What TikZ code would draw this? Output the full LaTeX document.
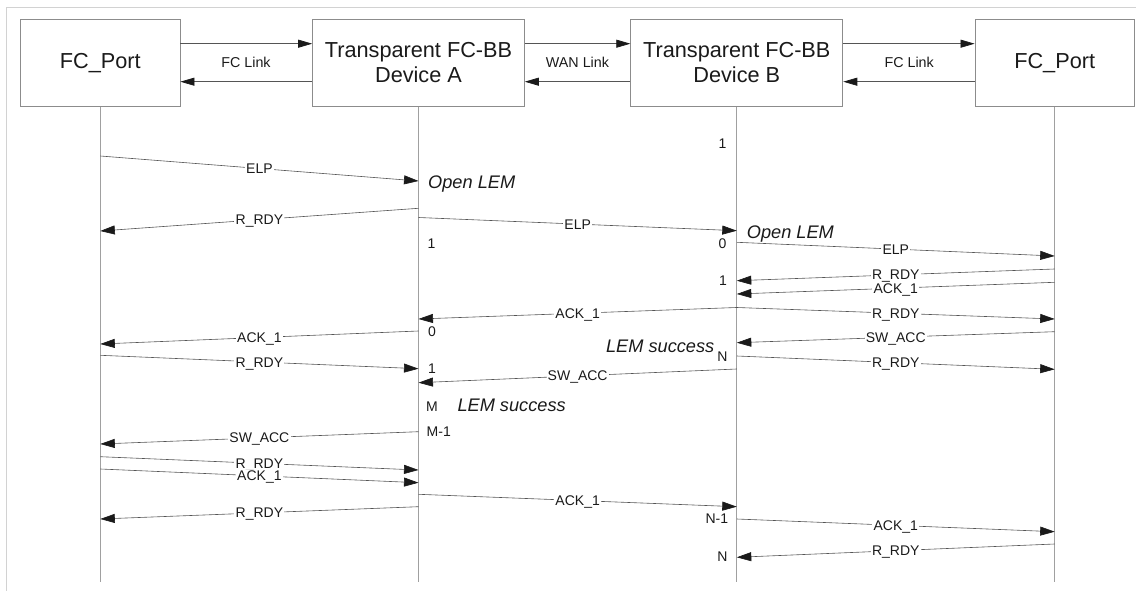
\documentclass[tikz,border=0pt]{standalone}
\usepackage{fontspec}
\setmainfont{Liberation Sans}
\usetikzlibrary{arrows.meta}
\definecolor{boxgray}{HTML}{8C8C8C}
\definecolor{lifegray}{HTML}{A0A0A0}
\definecolor{framegray}{HTML}{D2D2D2}
\definecolor{arrgray}{HTML}{555555}
\definecolor{tipblack}{HTML}{1A1A1A}
\definecolor{txt}{HTML}{1A1A1A}
\newcommand\msgline[6]{%
  \coordinate (#1s) at (#2,#3);
  \coordinate (#1e) at (#4,#5);
  \draw[msg] (#1s) -- node[msglbl]{#6} (#1e);}
\begin{document}
\begin{tikzpicture}[x=1pt,y=-1pt,
  entity/.style={draw=boxgray,line width=0.9pt,minimum height=87.4pt,inner sep=0pt,
    align=center,text=txt,font=\fontsize{21.7}{25}\selectfont},
  lifeline/.style={draw=lifegray,line width=0.9pt},
  linkarr/.style={draw=arrgray,line width=0.7pt,-{Triangle[length=14pt,width=8pt,color=tipblack]}},
  linklbl/.style={text=txt,font=\fontsize{14.3}{16}\selectfont,inner sep=0pt},
  msg/.style={draw=arrgray,line width=0.6pt,-{Triangle[length=14.5pt,width=9pt,color=tipblack]}},
  msglbl/.style={fill=white,text=txt,font=\fontsize{14}{16}\selectfont,
    inner sep=1.2pt,text height=10pt,text depth=0pt},
  state/.style={text=txt,font=\fontsize{18.2}{20}\itshape\selectfont,inner sep=0pt,
    text height=13pt,text depth=0pt},
  cnt/.style={text=txt,font=\fontsize{14}{16}\selectfont,inner sep=0pt,
    text height=10pt,text depth=0pt}]
\useasboundingbox (0,0) rectangle (1136,591);
% frame
\coordinate (fr1) at (1136,7.3);
\coordinate (fr2) at (6.7,7.3);
\coordinate (fr3) at (6.7,591);
\draw[framegray,line width=0.9pt] (fr1) -- (fr2) -- (fr3);
% entities
\def\xA{100.3}\def\xB{418.5}\def\xC{736.8}\def\xD{1054.7}
\node[entity,minimum width=159.3pt] (pl) at (\xA,63) {FC\_Port};
\node[entity,minimum width=211.7pt] (da) at (\xB,63) {Transparent FC-BB\\Device A};
\node[entity,minimum width=212pt] (db) at (\xC,63) {Transparent FC-BB\\Device B};
\node[entity,minimum width=159.3pt] (pr) at (\xD,63) {FC\_Port};
% link arrows
\coordinate (yt) at (0,43.7);
\coordinate (yb) at (0,81.7);
\coordinate (yend) at (0,581.7);
\draw[linkarr] (pl.east |- yt) -- (da.west |- yt);
\draw[linkarr] (da.west |- yb) -- (pl.east |- yb);
\draw[linkarr] (da.east |- yt) -- (db.west |- yt);
\draw[linkarr] (db.west |- yb) -- (da.east |- yb);
\draw[linkarr] (db.east |- yt) -- (pr.west |- yt);
\draw[linkarr] (pr.west |- yb) -- (db.east |- yb);
\node[linklbl] (l1) at (246,62.5) {FC Link};
\node[linklbl] (l2) at (577.5,62.3) {WAN Link};
\node[linklbl] (l3) at (909.2,62.3) {FC Link};
% lifelines
\draw[lifeline] (pl.south) -- (pl.south |- yend);
\draw[lifeline] (da.south) -- (da.south |- yend);
\draw[lifeline] (db.south) -- (db.south |- yend);
\draw[lifeline] (pr.south) -- (pr.south |- yend);
% messages
\msgline{m1}{\xA}{156}{\xB}{181}{ELP}
\msgline{m2}{\xB}{208.3}{\xA}{231}{R\_RDY}
\msgline{m3}{\xB}{217.5}{\xC}{230.7}{ELP}
\msgline{m4}{\xC}{242.3}{\xD}{256}{ELP}
\msgline{m5}{\xD}{269}{\xC}{280.7}{R\_RDY}
\msgline{m6}{\xD}{282.3}{\xC}{294}{ACK\_1}
\msgline{m7}{\xC}{307.5}{\xB}{319}{ACK\_1}
\msgline{m8}{\xC}{307.5}{\xD}{319}{R\_RDY}
\msgline{m9}{\xB}{331}{\xA}{344}{ACK\_1}
\msgline{m10}{\xD}{331.7}{\xC}{342.7}{SW\_ACC}
\msgline{m11}{\xA}{355.3}{\xB}{368.7}{R\_RDY}
\msgline{m12}{\xC}{356}{\xD}{369.3}{R\_RDY}
\msgline{m13}{\xC}{369}{\xB}{382.7}{SW\_ACC}
\msgline{m14}{\xB}{431.7}{\xA}{444}{SW\_ACC}
\msgline{m15}{\xA}{456.7}{\xB}{470}{R\_RDY}
\msgline{m16}{\xA}{469}{\xB}{482.7}{ACK\_1}
\msgline{m17}{\xB}{494.3}{\xC}{506.7}{ACK\_1}
\msgline{m18}{\xB}{506.7}{\xA}{519}{R\_RDY}
\msgline{m19}{\xC}{519}{\xD}{531.7}{ACK\_1}
\msgline{m20}{\xD}{544}{\xC}{557.3}{R\_RDY}
% states
\node[state,anchor=west] (s1) at (428,182) {Open LEM};
\node[state,anchor=west] (s2) at (746.7,232.3) {Open LEM};
\node[state,anchor=east] (s3) at (714.5,345.7) {LEM success};
\node[state,anchor=west] (s4) at (457.3,405) {LEM success};
% counters
\node[cnt,anchor=east] (c1) at (726.5,143.3) {1};
\node[cnt,anchor=west] (c2) at (427.5,243.3) {1};
\node[cnt,anchor=east] (c3) at (726.5,243) {0};
\node[cnt,anchor=east] (c4) at (727,280.7) {1};
\node[cnt,anchor=west] (c5) at (428,331) {0};
\node[cnt,anchor=west] (c6) at (428,368.3) {1};
\node[cnt,anchor=east] (c7) at (727.7,356) {N};
\node[cnt,anchor=west] (c8) at (426,406) {M};
\node[cnt,anchor=west] (c9) at (426.5,431.7) {M-1};
\node[cnt,anchor=east] (c10) at (728.3,518.3) {N-1};
\node[cnt,anchor=east] (c11) at (727.7,556) {N};
\end{tikzpicture}
\end{document}
